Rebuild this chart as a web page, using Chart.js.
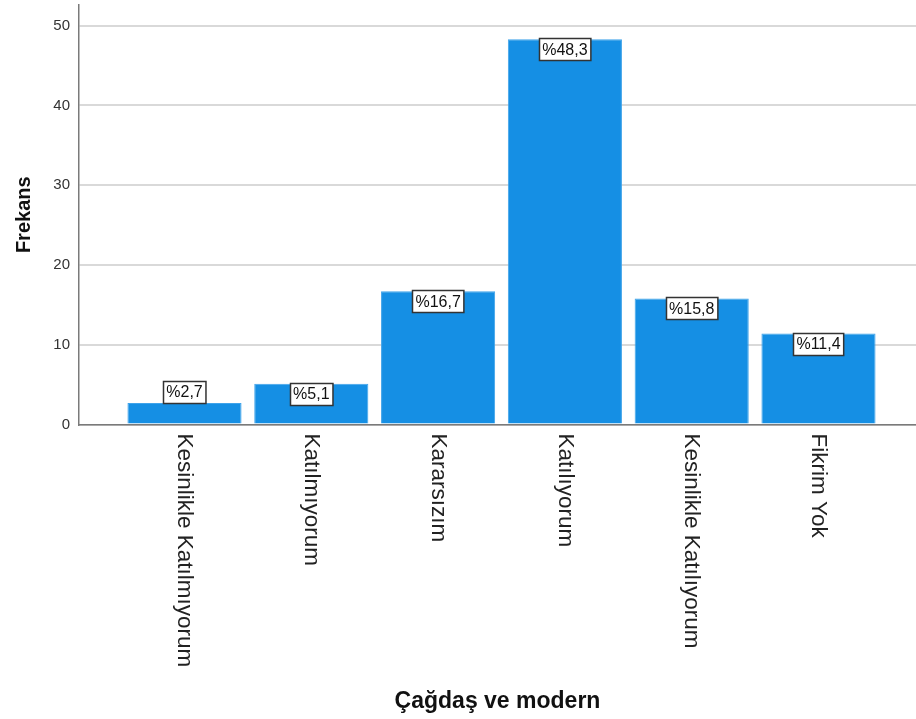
<!DOCTYPE html>
<html>
<head>
<meta charset="utf-8">
<script src="https://cdn.jsdelivr.net/npm/chart.js@4"></script>
<style>
  body { margin: 0; background: #fff; }
  canvas { display: block; }
</style>
</head>
<body>
<canvas id="chartFrekans" width="916" height="719"></canvas>
<script>
// Data dari grafik
const kategori = ['Kesinlikle Katılmıyorum', 'Katılmıyorum', 'Kararsızım', 'Katılıyorum', 'Kesinlikle Katılıyorum', 'Fikrim Yok'];
const frekans = [2.7, 5.1, 16.7, 48.3, 15.8, 11.4];
const persenLabel = ['%2,7', '%5,1', '%16,7', '%48,3', '%15,8', '%11,4'];
const yTicks = [0, 10, 20, 30, 40, 50];

const fontFamily = "'Liberation Sans', Arial, sans-serif";

// Plugin untuk label kategori vertikal (dibaca dari atas ke bawah)
const labelKategori = {
  id: 'labelKategori',
  afterDraw(chart) {
    const ctx = chart.ctx;
    const xScale = chart.scales.x;
    const y0 = chart.chartArea.bottom + 9;
    ctx.save();
    ctx.font = '22.5px ' + fontFamily;
    ctx.fillStyle = '#222';
    ctx.textAlign = 'left';
    ctx.textBaseline = 'middle';
    kategori.forEach((teks, i) => {
      const x = xScale.getPixelForValue(i);
      ctx.save();
      ctx.translate(x, y0);
      ctx.rotate(Math.PI / 2);
      ctx.fillText(teks, 0, 0);
      ctx.restore();
    });
    ctx.restore();
  }
};

// Plugin untuk kotak persentase di atas batang
const labelPersen = {
  id: 'labelPersen',
  afterDatasetsDraw(chart) {
    const ctx = chart.ctx;
    const meta = chart.getDatasetMeta(0);
    ctx.save();
    ctx.font = '16px ' + fontFamily;
    ctx.textAlign = 'center';
    ctx.textBaseline = 'middle';
    meta.data.forEach((bar, i) => {
      const teks = persenLabel[i];
      const w = ctx.measureText(teks).width + 6;
      const h = 22;
      const tinggiBatang = bar.base - bar.y;
      // kalau batang terlalu pendek, kotak diletakkan di atasnya
      const top = tinggiBatang < h ? bar.y - h : bar.y - 1;
      const left = Math.round(bar.x - w / 2) + 0.5;
      ctx.fillStyle = '#fff';
      ctx.fillRect(left, Math.round(top) + 0.5, w, h);
      ctx.strokeStyle = '#333';
      ctx.lineWidth = 1.5;
      ctx.strokeRect(left, Math.round(top) + 0.5, w, h);
      ctx.fillStyle = '#111';
      ctx.fillText(teks, bar.x, top + h / 2 + 1);
    });
    ctx.restore();
  }
};

const ctx = document.getElementById('chartFrekans').getContext('2d');
const myChart = new Chart(ctx, {
  type: 'bar',
  data: {
    datasets: [{
      label: 'Frekans',
      data: frekans.map((v, i) => ({ x: i, y: v })),
      backgroundColor: '#158fe4',
      borderColor: '#3fa3ea',
      borderWidth: 1,
      categoryPercentage: 1,
      barPercentage: 0.9
    }]
  },
  options: {
    responsive: false,
    animation: false,
    devicePixelRatio: 1,
    layout: { padding: { top: 5, right: 0, left: 0, bottom: 0 } },
    plugins: {
      legend: { display: false },
      tooltip: { enabled: false }
    },
    scales: {
      x: {
        type: 'linear',
        min: -0.832,
        max: 5.769,
        offset: false,
        grid: { display: false, offset: false },
        border: { display: true, color: '#7a7a7a', width: 1.5 },
        ticks: { display: false },
        afterBuildTicks(scale) {
          scale.ticks = kategori.map((k, i) => ({ value: i }));
        },
        title: {
          display: true,
          text: 'Çağdaş ve modern',
          font: { family: fontFamily, size: 23, weight: 'bold' },
          color: '#111',
          padding: { top: 0, bottom: 4 }
        },
        afterFit(scale) {
          scale.height = 719 - 5 - 419.5;
          scale.paddingLeft = 0;
          scale.paddingRight = 0;
        }
      },
      y: {
        min: 0,
        max: 52.6,
        grid: { color: '#d9d9d9', lineWidth: 2, drawTicks: false },
        border: { display: true, color: '#7a7a7a', width: 1.5 },
        ticks: {
          stepSize: 10,
          includeBounds: false,
          padding: 9,
          color: '#333',
          font: { family: fontFamily, size: 15 }
        },
        afterBuildTicks(scale) {
          scale.ticks = yTicks.map(v => ({ value: v }));
        },
        title: {
          display: true,
          text: 'Frekans',
          font: { family: fontFamily, size: 20, weight: 'bold' },
          color: '#111',
          padding: { top: 12, bottom: 0 }
        },
        afterFit(scale) {
          scale.width = 79;
          scale.paddingTop = 0;
          scale.paddingBottom = 0;
        }
      }
    }
  },
  plugins: [labelPersen, labelKategori]
});
</script>
</body>
</html>
